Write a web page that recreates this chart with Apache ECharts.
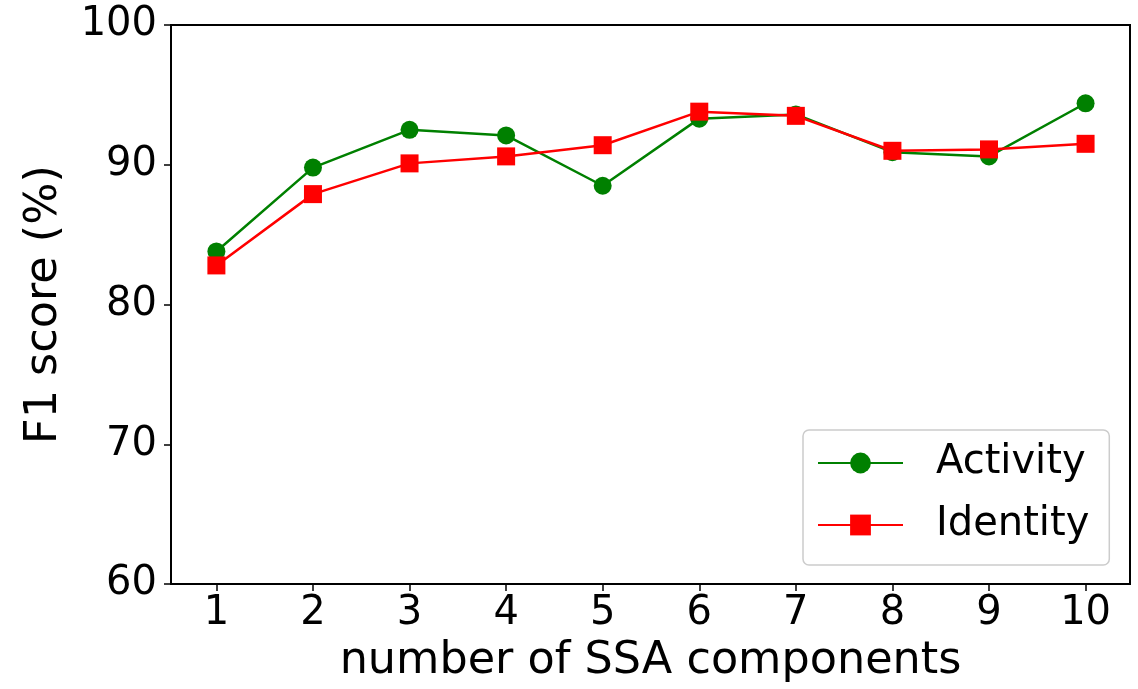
<!DOCTYPE html>
<html>
<head>
<meta charset="utf-8">
<script src="https://cdn.jsdelivr.net/npm/echarts@6/dist/echarts.min.js"></script>
<style>html,body{margin:0;padding:0;background:#fff;}#chart{width:1138px;height:689px;}</style>
</head>
<body>
<div id="chart"></div>
<script>
const components = [1, 2, 3, 4, 5, 6, 7, 8, 9, 10];
const activity = [83.8, 89.8, 92.5, 92.1, 88.5, 93.3, 93.6, 90.9, 90.6, 94.4];
const identity = [82.8, 87.9, 90.1, 90.6, 91.4, 93.8, 93.5, 91.0, 91.1, 91.5];
const yTicks = [60, 70, 80, 90, 100];

const FONT = 'DejaVu Sans';
const chart = echarts.init(document.getElementById('chart'), null, {renderer: 'canvas'});
const pairs = (ys) => components.map((x, i) => [x, ys[i]]);
chart.setOption({
  animation: false,
  backgroundColor: '#fff',
  grid: {left: 171, top: 25, right: 8, bottom: 104, show: true, borderColor: '#000', borderWidth: 2, backgroundColor: 'transparent'},
  xAxis: {
    type: 'value', min: 0.53, max: 10.46,
    name: 'number of SSA components', nameLocation: 'middle', nameGap: 52,
    nameTextStyle: {fontFamily: FONT, fontSize: 44.5, color: '#000'},
    axisLine: {show: true, lineStyle: {color: '#000', width: 2}},
    axisTick: {show: true, length: 7, lineStyle: {color: '#000', width: 1.5}, customValues: components},
    axisLabel: {fontFamily: FONT, fontSize: 40, color: '#000', margin: 10, customValues: components},
    splitLine: {show: false}
  },
  yAxis: {
    type: 'value', min: 60, max: 100, interval: 10,
    name: 'F1 score (%)', nameLocation: 'middle', nameGap: 104,
    nameTextStyle: {fontFamily: FONT, fontSize: 44.5, color: '#000'},
    axisLine: {show: true, lineStyle: {color: '#000', width: 2}},
    axisTick: {show: true, length: 7, lineStyle: {color: '#000', width: 1.5}},
    axisLabel: {fontFamily: FONT, fontSize: 40, color: '#000', margin: 14, customValues: yTicks},
    splitLine: {show: false}
  },
  legend: {
    left: 803, top: 430, orient: 'vertical',
    padding: [13, 20, 20, 14], itemGap: 22,
    itemWidth: 85, itemHeight: 26,
    backgroundColor: 'rgba(255,255,255,0.8)', borderColor: '#cccccc', borderWidth: 1.5, borderRadius: 6,
    textStyle: {fontFamily: FONT, fontSize: 40, color: '#000', lineHeight: 40, padding: [0, 0, 0, 28]},
    data: ['Activity', 'Identity']
  },
  series: [
    {name: 'Activity', type: 'line', data: pairs(activity), symbol: 'circle', symbolSize: 18,
     lineStyle: {color: '#008000', width: 2.5}, itemStyle: {color: '#008000'}, z: 2},
    {name: 'Identity', type: 'line', data: pairs(identity), symbol: 'rect', symbolSize: 18,
     lineStyle: {color: '#ff0000', width: 2.5}, itemStyle: {color: '#ff0000'}, z: 3}
  ]
});
</script>
</body>
</html>
